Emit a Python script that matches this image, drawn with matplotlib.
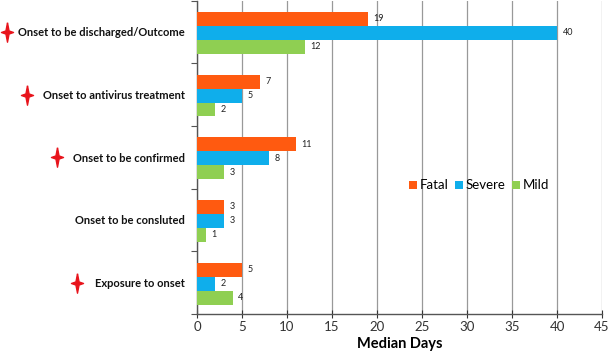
import numpy as np
import matplotlib
matplotlib.use("Agg")
import matplotlib.pyplot as plt
from matplotlib.path import Path
from matplotlib.transforms import blended_transform_factory

categories = ["Onset to be discharged/Outcome", "Onset to antivirus treatment",
              "Onset to be confirmed", "Onset to be consluted", "Exposure to onset"]
starred = [True, True, True, False, True]
fatal = [19, 7, 11, 3, 5]
severe = [40, 5, 8, 3, 2]
mild = [12, 2, 3, 1, 4]
series_names = ["Fatal", "Severe", "Mild"]
colors = ["#FF5A10", "#0FAEEB", "#8FCF52"]
xticks = list(range(0, 50, 5))

plt.rcParams['font.family'] = ['Lato', 'DejaVu Sans']

fig = plt.figure(figsize=(6.1, 3.55), dpi=100)
ax = fig.add_axes([0.323, 0.1155, 0.664, 0.883])

n = len(categories)
y = np.arange(n) + 0.5
h = 0.223
for k, (vals, name, col) in enumerate(zip([fatal, severe, mild], series_names, colors)):
    yy = y + (k - 1) * h + 0.015
    ax.barh(yy, vals, height=h, color=col, label=name, zorder=3)
    for yi, v in zip(yy, vals):
        ax.text(v + 0.6, yi, str(v), va="center", ha="left", fontsize=6.5, color="#222222")

ax.set_ylim(n, 0)
ax.set_xlim(0, 45)
ax.set_xticks(xticks)
ax.tick_params(axis="x", direction="inout", length=6, labelsize=9.5, colors="#333333", pad=2)
ax.xaxis.grid(True, color="#999999", linewidth=0.9, zorder=0)
ax.set_axisbelow(True)

ax.set_yticks(np.arange(n + 1))
ax.set_yticklabels([])
ax.tick_params(axis="y", direction="out", length=4, colors="#555555")
ax.set_yticks(y, minor=True)
ax.set_yticklabels(categories, minor=True, fontweight="bold", fontsize=8.0)
ax.tick_params(axis="y", which="minor", length=0, pad=9, labelcolor="#111111")

for s in ["top", "right"]:
    ax.spines[s].set_visible(False)
for s in ["left", "bottom"]:
    ax.spines[s].set_color("#555555")
    ax.spines[s].set_linewidth(1.0)

ax.set_xlabel("Median Days", fontweight="bold", fontsize=10.5, labelpad=3)

leg = ax.legend(loc="center left", bbox_to_anchor=(0.51, 0.41), ncol=3, frameon=False,
                fontsize=9.5, handlelength=0.6, handleheight=0.6, handletextpad=0.2,
                columnspacing=0.5, borderaxespad=0)

# red four-pointed star markers next to labels
star = Path([(0, 1), (0.16, 0.16), (0.62, 0), (0.16, -0.16), (0, -1), (-0.16, -0.16),
             (-0.62, 0), (-0.16, 0.16), (0, 1)])
star_x = [0.012, 0.045, 0.094, None, 0.127]
trans = blended_transform_factory(fig.transFigure, ax.transData)
for yi, sx, s in zip(y, star_x, starred):
    if s:
        ax.plot([sx], [yi], marker=star, markersize=14, color="#E8141C", transform=trans,
                clip_on=False, linestyle="none")

fig.savefig("out.png", dpi=100)
